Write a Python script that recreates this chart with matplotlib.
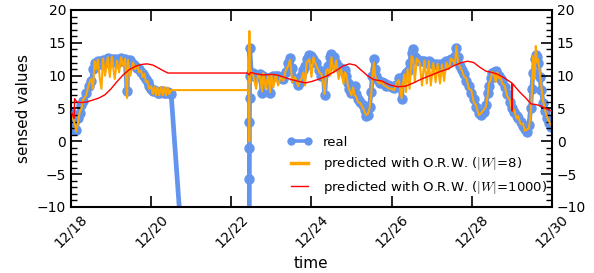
import numpy as np
import pandas as pd
import matplotlib
matplotlib.use("Agg")
import matplotlib.pyplot as plt
import matplotlib.dates as mdates
from matplotlib.ticker import MultipleLocator

plt.rcParams['mathtext.fontset'] = 'cm'

# time in days of December
real_t = [18.00, 18.05, 18.10, 18.13, 18.18, 18.22, 18.26, 18.30, 18.38, 18.45,
          18.51, 18.55, 18.59, 18.63, 18.67, 18.72, 18.76, 18.80, 18.85, 18.92,
          18.97, 19.02, 19.09, 19.15, 19.20, 19.25, 19.30, 19.35, 19.40, 19.42,
          19.48, 19.55, 19.60, 19.66, 19.70, 19.75, 19.79, 19.83, 19.87, 19.91,
          19.95, 20.00, 20.04, 20.08, 20.12, 20.16, 20.20, 20.25, 20.29, 20.33,
          20.37, 20.41, 20.45, 20.50, 20.90, 22.44, 22.450, 22.452, 22.454, 22.456,
          22.458, 22.46, 22.50, 22.55, 22.62, 22.67, 22.72, 22.77, 22.80, 22.86,
          22.92, 22.97, 23.00, 23.05, 23.11, 23.17, 23.23, 23.30, 23.36, 23.42,
          23.47, 23.52, 23.59, 23.67, 23.72, 23.75, 23.80, 23.84, 23.88, 23.95,
          24.00, 24.05, 24.12, 24.20, 24.25, 24.30, 24.33, 24.37, 24.41, 24.46,
          24.50, 24.56, 24.62, 24.68, 24.74, 24.80, 24.83, 24.87, 24.91, 24.95,
          25.00, 25.04, 25.08, 25.12, 25.16, 25.22, 25.29, 25.33, 25.37, 25.41,
          25.45, 25.49, 25.52, 25.56, 25.59, 25.62, 25.66, 25.70, 25.75, 25.80,
          25.85, 25.90, 25.95, 26.00, 26.07, 26.12, 26.18, 26.25, 26.28, 26.32,
          26.36, 26.40, 26.45, 26.50, 26.54, 26.58, 26.63, 26.70, 26.76, 26.82,
          26.88, 26.93, 26.98, 27.04, 27.10, 27.15, 27.21, 27.26, 27.31, 27.37,
          27.43, 27.48, 27.53, 27.58, 27.62, 27.66, 27.72, 27.77, 27.81, 27.87,
          27.93, 27.99, 28.05, 28.11, 28.18, 28.24, 28.30, 28.35, 28.40, 28.43,
          28.47, 28.51, 28.56, 28.60, 28.64, 28.68, 28.72, 28.76, 28.82, 28.89,
          28.95, 29.01, 29.06, 29.12, 29.16, 29.22, 29.28, 29.33, 29.38, 29.43,
          29.47, 29.50, 29.53, 29.57, 29.60, 29.63, 29.66, 29.70, 29.74, 29.78,
          29.83, 29.87, 29.93, 29.98]

real_v = [4.5, 3.0, 1.8, 1.8, 3.5, 4.3, 5.5, 6.1, 7.3, 8.5,
          9.2, 11.0, 12.0, 11.5, 12.2, 11.8, 12.0, 12.4, 12.0, 12.7,
          12.3, 12.6, 12.5, 12.0, 12.5, 12.7, 12.3, 12.5, 7.6, 12.0,
          12.4, 11.8, 11.5, 11.2, 11.0, 10.5, 10.2, 10.0, 9.5, 9.0,
          8.4, 8.0, 7.6, 7.8, 7.6, 7.4, 7.3, 7.6, 7.6, 7.3,
          7.3, 7.5, 7.3, 7.2, -27.0, -60.0, -5.8, -1.0, 3.0, 6.6,
          9.9, 14.2, 10.4, 10.4, 9.8, 9.9, 10.2, 7.4, 9.9, 9.6,
          9.7, 7.4, 9.8, 9.9, 10.0, 9.9, 9.6, 9.5, 10.5, 12.0,
          12.7, 11.2, 9.5, 8.6, 9.0, 9.9, 10.8, 11.5, 12.5, 13.2,
          13.0, 12.5, 12.0, 10.8, 9.9, 10.2, 7.0, 10.5, 11.5, 12.8,
          13.3, 12.8, 12.0, 11.3, 10.9, 11.0, 10.9, 10.0, 8.9, 8.0,
          7.4, 8.0, 8.4, 7.2, 6.4, 6.0, 5.5, 4.8, 3.8, 4.0,
          5.3, 7.5, 9.9, 12.5, 11.0, 9.9, 9.3, 8.9, 9.0, 8.9,
          8.5, 8.6, 8.4, 8.2, 8.1, 8.6, 9.6, 6.4, 9.6, 9.9,
          10.4, 10.7, 12.0, 13.5, 14.0, 12.8, 12.5, 12.2, 12.3, 12.2,
          12.0, 12.2, 12.0, 11.8, 11.8, 11.6, 11.8, 11.5, 12.0, 12.2,
          12.2, 12.5, 12.6, 13.0, 14.2, 12.8, 11.5, 10.8, 10.2, 9.2,
          8.4, 7.4, 6.4, 5.3, 4.3, 4.0, 4.5, 5.5, 7.4, 8.4,
          9.6, 10.4, 10.6, 10.7, 10.2, 9.9, 9.5, 9.2, 8.2, 7.2,
          6.0, 5.0, 4.4, 3.9, 3.5, 3.0, 2.3, 1.9, 1.4, 2.5,
          5.0, 8.0, 10.4, 12.5, 13.2, 12.8, 12.0, 9.8, 7.8, 5.9,
          4.6, 3.6, 2.8, 2.2]

# predicted with |W|=8, same time stamps as real_t
pred8_v = [4.0, 3.5, 2.5, 1.5, 3.0, 4.5, 5.0, 6.3, 7.0, 8.8,
           9.5, 8.0, 12.2, 11.0, 12.5, 9.5, 8.0, 12.6, 10.0, 12.8,
           9.8, 12.9, 9.5, 12.3, 10.5, 12.8, 11.5, 12.6, 6.6, 12.4,
           10.0, 12.0, 11.0, 11.5, 10.5, 10.8, 9.8, 10.3, 9.0, 9.2,
           8.0, 8.4, 7.2, 8.3, 7.0, 8.2, 7.0, 8.3, 7.0, 8.2,
           7.0, 8.2, 7.2, 7.8, 7.8, 7.8, 0.0, 16.8, 12.0, 9.0,
           10.5, 11.0, 10.6, 10.0, 8.0, 10.2, 9.8, 7.6, 10.4, 8.0,
           10.0, 7.5, 10.2, 8.2, 10.1, 8.5, 9.8, 9.2, 10.8, 11.5,
           12.4, 9.0, 9.8, 8.4, 9.3, 9.5, 10.5, 8.5, 12.0, 12.5,
           9.8, 12.8, 11.5, 10.5, 10.2, 8.8, 7.2, 10.8, 11.0, 10.0,
           12.8, 10.5, 12.3, 9.5, 11.0, 8.8, 10.5, 10.2, 8.5, 7.8,
           7.0, 8.2, 7.0, 6.8, 6.0, 5.8, 5.0, 4.5, 4.0, 4.2,
           5.0, 7.0, 9.5, 12.0, 10.0, 9.5, 9.0, 8.8, 9.2, 8.6,
           8.4, 8.2, 8.0, 8.0, 7.8, 8.9, 9.3, 6.6, 8.5, 10.2,
           7.5, 11.0, 8.0, 13.0, 12.5, 9.0, 12.6, 12.0, 8.5, 12.3,
           8.8, 12.2, 8.5, 11.9, 9.0, 11.8, 8.8, 11.7, 9.2, 12.0,
           11.0, 12.6, 12.3, 11.8, 14.5, 12.0, 11.2, 10.6, 9.8, 9.6,
           8.0, 7.8, 6.0, 5.5, 4.0, 4.3, 4.8, 5.2, 7.0, 8.8,
           9.3, 10.6, 10.2, 9.0, 10.5, 9.6, 9.8, 8.8, 8.5, 6.8,
           6.3, 4.6, 4.8, 3.5, 3.8, 2.6, 2.7, 1.6, 1.8, 2.0,
           4.2, 7.0, 13.0, 9.5, 14.5, 12.0, 12.5, 10.5, 8.2, 6.2,
           4.8, 3.9, 3.0, 2.5]

# predicted with |W|=1000
pred1000_t = [18.00, 18.07, 18.08, 18.09, 18.15, 18.25, 18.40, 18.55, 18.70, 18.85,
              19.00, 19.15, 19.30, 19.45, 19.60, 19.75, 19.90, 20.05, 20.20, 20.32,
              20.42, 22.40, 22.45, 22.48, 22.60, 22.80, 23.00, 23.15, 23.35, 23.50,
              23.70, 23.85, 24.00, 24.20, 24.40, 24.60, 24.80, 24.95, 25.10, 25.25,
              25.40, 25.55, 25.75, 25.95, 26.15, 26.35, 26.55, 26.75, 27.00, 27.20,
              27.40, 27.55, 27.75, 27.90, 28.05, 28.20, 28.35, 28.50, 28.65, 28.80,
              28.95, 29.00, 29.01, 29.02, 29.10, 29.20, 29.35, 29.48, 29.60, 29.72,
              29.85, 30.00]
pred1000_v = [4.6, 3.6, 3.5, 6.5, 6.0, 5.9, 6.0, 6.3, 6.6, 7.1,
              8.0, 9.1, 10.1, 10.9, 11.4, 11.7, 11.8, 11.6, 11.1, 10.7,
              10.4, 10.4, 10.1, 10.5, 10.3, 10.1, 10.2, 10.1, 9.7, 9.4,
              9.1, 8.9, 9.1, 9.5, 10.0, 10.7, 11.5, 11.8, 11.6, 10.8,
              10.0, 9.4, 9.2, 8.6, 8.3, 8.4, 8.9, 9.5, 10.1, 10.6,
              11.0, 11.5, 12.0, 12.2, 12.0, 11.3, 10.7, 10.5, 10.2, 9.7,
              9.1, 8.9, 4.6, 8.8, 8.2, 7.5, 6.6, 5.7, 5.6, 5.4,
              5.0, 4.6]


def to_dates(days):
    return pd.Timestamp('2015-12-01') + pd.to_timedelta(np.array(days) - 1, unit='D')


fig = plt.figure(figsize=(5.94, 2.73), dpi=100)
ax = fig.add_axes([0.1195, 0.2418, 0.8095, 0.7216])

ax.plot(to_dates(real_t), real_v, color='cornflowerblue', lw=3.4, marker='o',
        ms=6.5, label='real', zorder=1)
ax.plot(to_dates(real_t), pred8_v, color='orange', lw=1.5,
        label=r'predicted with O.R.W. ($|W|$=8)', zorder=2)
ax.plot(to_dates(pred1000_t), pred1000_v, color='red', lw=1.0,
        label=r'predicted with O.R.W. ($|W|$=1000)', zorder=3)

ax.set_xlim(pd.Timestamp('2015-12-18'), pd.Timestamp('2015-12-30'))
ax.set_ylim(-10, 20)
ax.xaxis.set_major_locator(mdates.DayLocator(bymonthday=[18, 20, 22, 24, 26, 28, 30]))
ax.xaxis.set_major_formatter(mdates.DateFormatter('%m/%d'))
ax.yaxis.set_major_locator(MultipleLocator(5))
ax.yaxis.set_minor_locator(MultipleLocator(1))
ax.tick_params(axis='both', which='both', direction='in', top=True, right=True,
               labelright=True, labelsize=10)
ax.tick_params(axis='both', which='major', length=8, width=1.2)
ax.tick_params(axis='y', which='minor', length=4, width=1.0)
plt.setp(ax.get_xticklabels(), rotation=45)
for s in ax.spines.values():
    s.set_linewidth(1.5)

ax.set_xlabel('time', fontsize=11)
ax.set_ylabel('sensed values', fontsize=11)

leg = ax.legend(loc='lower left', bbox_to_anchor=(0.43, 0.01), frameon=False,
                fontsize=9.5, handlelength=1.9, numpoints=2, borderaxespad=0.3)
leg.legend_handles[0].set_linewidth(2.6)
leg.legend_handles[0].set_markersize(5)
leg.legend_handles[1].set_linewidth(2.5)

fig.savefig('out.png', dpi=100)
